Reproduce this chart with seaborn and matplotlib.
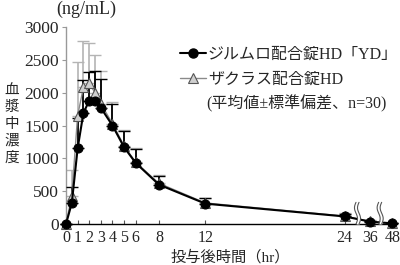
import numpy as np
import pandas as pd
import matplotlib
matplotlib.use("Agg")
import matplotlib.pyplot as plt
from matplotlib.lines import Line2D
import seaborn as sns

sns.set_style("white")
FAM = ['Liberation Serif', 'Noto Sans CJK JP', 'DejaVu Sans']
plt.rcParams['font.family'] = FAM

# ---------------- data ----------------
time_hr = [0, 0.5, 1, 1.5, 2, 2.5, 3, 4, 5, 6, 8, 12, 24, 36, 48]
yd_mean = [0, 320, 1150, 1690, 1880, 1880, 1770, 1500, 1170, 930, 600, 310, 115, 35, 10]
yd_sd = [0, 240, 470, 500, 440, 450, 440, 320, 245, 215, 135, 80, 40, 15, 5]
ref_mean = [0, 430, 1650, 2080, 2140, 2000, 1830, 1530, 1190, 940, 620, 320, 120, 40, 10]
ref_sd = [0, 390, 810, 700, 620, 570, 500, 330, 240, 215, 130, 80, 40, 15, 5]
xtick_vals = [0, 1, 2, 3, 4, 5, 6, 8, 12, 24, 36, 48]
ytick_vals = [0, 500, 1000, 1500, 2000, 2500, 3000]
label_yd = "ジルムロ配合錠HD「YD」"
label_ref = "ザクラス配合錠HD"
note = "(平均値±標準偏差、n=30)"
ylabel_chars = ["血", "漿", "中", "濃", "度"]
xlabel = "投与後時間（hr）"
unit = "(ng/mL)"


# broken time axis: linear to 24 h, compressed afterwards
def xpos(t):
    t = np.asarray(t, dtype=float)
    return np.where(t <= 24, t, np.where(t <= 36, 24 + (t - 24) * (2.2 / 12), 26.2 + (t - 36) * (1.9 / 12)))


df = pd.DataFrame({
    "x": np.concatenate([xpos(time_hr), xpos(time_hr)]),
    "conc": yd_mean + ref_mean,
    "sd": yd_sd + ref_sd,
    "drug": [label_yd] * len(time_hr) + [label_ref] * len(time_hr),
})

fig = plt.figure(figsize=(4, 2.65), dpi=100)
ax = fig.add_axes([0.165, 0.1547, 0.8275, 0.7434])

d_ref = df[df.drug == label_ref]
d_yd = df[df.drug == label_yd]

gray_line = '#8a8a8a'
gray_err = '#b4b4b4'

# error bars (upper only)
ax.errorbar(d_ref.x, d_ref.conc, yerr=[np.zeros(len(d_ref)), d_ref.sd], fmt='none',
            ecolor=gray_err, elinewidth=1.2, capsize=4, capthick=1.0, zorder=2, clip_on=False)
ax.errorbar(d_yd.x, d_yd.conc, yerr=[np.zeros(len(d_yd)), d_yd.sd], fmt='none',
            ecolor='black', elinewidth=1.3, capsize=4, capthick=1.0, zorder=3, clip_on=False)

# reference (triangles)
sns.lineplot(data=d_ref, x="x", y="conc", ax=ax, color=gray_line, lw=1.0,
             marker='^', markersize=6.5, markerfacecolor='#cfcfcf', markeredgecolor='#555555',
             markeredgewidth=0.8, legend=False, zorder=4, clip_on=False)
# YD (circles)
sns.lineplot(data=d_yd, x="x", y="conc", ax=ax, color='black', lw=1.5,
             marker='o', markersize=6.5, markerfacecolor='black', markeredgecolor='black',
             legend=False, zorder=5, clip_on=False)

# axis break marks
for xc in [25.1, 27.05]:
    yy = np.linspace(0, 330, 40)
    wig = 0.13 * np.sin((yy / 330) * 2 * np.pi)
    x1 = xc - 0.13 + wig
    x2 = xc + 0.13 + wig
    ax.fill_betweenx(yy, x1, x2, color='white', zorder=6, lw=0, clip_on=False)
    ax.plot(x1, yy, color='#555555', lw=0.8, zorder=7, clip_on=False)
    ax.plot(x2, yy, color='#555555', lw=0.8, zorder=7, clip_on=False)

ax.set_xlim(0, 28.5)
ax.set_ylim(0, 3000)
ax.set_xticks(xpos(xtick_vals))
ax.set_xticklabels([str(v) for v in xtick_vals])
ax.set_yticks(ytick_vals)
ax.set_yticklabels([str(v) for v in ytick_vals])
ax.set_xlabel("")
ax.set_ylabel("")

for s in ['top', 'right']:
    ax.spines[s].set_visible(False)
ax.spines['left'].set_color('#999999')
ax.spines['left'].set_linewidth(1.0)
ax.spines['bottom'].set_color('black')
ax.spines['bottom'].set_linewidth(1.0)

ax.tick_params(axis='y', direction='out', length=3, width=0.8, color='#999999',
               labelsize=12.5, pad=2, left=True)
ax.tick_params(axis='x', direction='in', length=3, width=0.8, color='#555555',
               labelsize=11.5, pad=4, bottom=True)

# labels
fig.text(86.5 / 400, 1 - 9 / 265, unit, fontsize=13, ha='center', va='center', family=FAM)
for i, ch in enumerate(ylabel_chars):
    fig.text(12 / 400, 1 - (91 + i * 16.7) / 265, ch, fontsize=10.5, ha='center', va='center', family=FAM)
fig.text(230 / 400, 1 - 257 / 265, xlabel, fontsize=11, ha='center', va='center', family=FAM)

# legend
h1 = Line2D([], [], color='black', lw=1.5, marker='o', markersize=6.5)
h2 = Line2D([], [], color=gray_line, lw=1.0, marker='^', markersize=6.5,
            markerfacecolor='#cfcfcf', markeredgecolor='#555555', markeredgewidth=0.8)
leg = ax.legend([h1, h2], [label_yd, label_ref], loc='upper left',
                bbox_to_anchor=(180 / 400, 1 - 47 / 265), bbox_transform=fig.transFigure,
                frameon=False, borderpad=0, borderaxespad=0, handlelength=1.6,
                handletextpad=0.15, labelspacing=0.55, prop={'family': FAM, 'size': 11.5})
fig.text(206 / 400, 1 - 104 / 265, note, fontsize=11.5, ha='left', va='center', family=FAM)

fig.savefig("out.png", dpi=100)
